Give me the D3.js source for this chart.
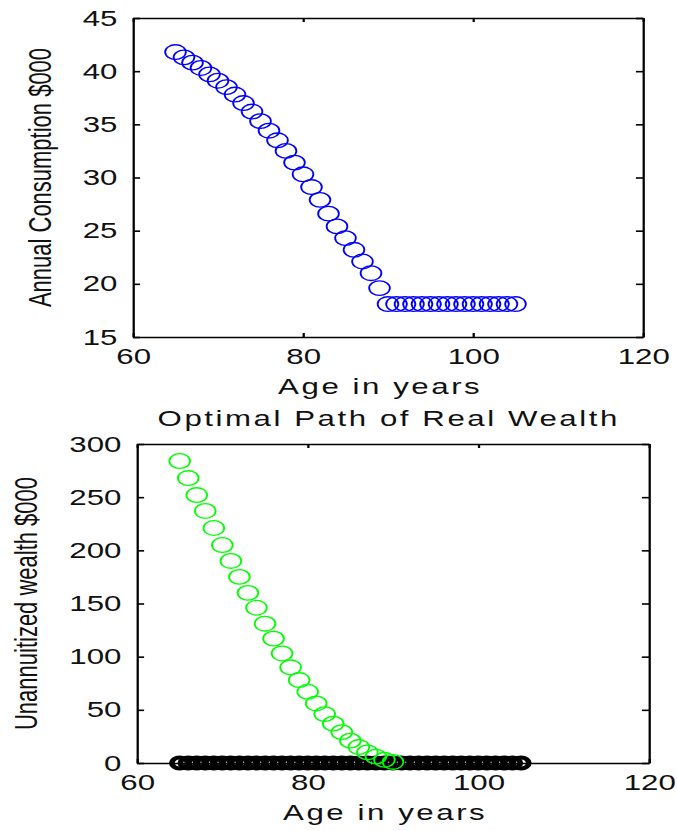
<!DOCTYPE html>
<html lang="en">
<head>
<meta charset="utf-8">
<title>Optimal Path of Consumption and Real Wealth</title>
<style>
  body { margin: 0; background: #fff; }
  svg text { font-family: Arial, "Liberation Sans", Helvetica, sans-serif; fill: #111; }
  .axis path, .axis line { stroke: #000; stroke-width: 1.6px; }
  .axis text { font-size: 22px; }
  .label { font-size: 22px; letter-spacing: 1.8px; }
  .ylabel { font-size: 22px; }
</style>
</head>
<body>
<div id="chart"></div>
<script src="https://d3js.org/d3.v7.min.js"></script>
<script>

// ages (years) for the consumption path and the zero line
var ages = [65, 66, 67, 68, 69, 70, 71, 72, 73, 74, 75, 76, 77, 78, 79, 80, 81, 82, 83, 84, 85,
            86, 87, 88, 89, 90, 91, 92, 93, 94, 95, 96, 97, 98, 99, 100, 101, 102, 103, 104, 105];

// annual consumption, $000
var consumption = [41.8, 41.3, 40.8, 40.3, 39.7, 39.1, 38.5, 37.8, 37.0, 36.2, 35.3,
                   34.4, 33.5, 32.5, 31.4, 30.3, 29.1, 27.9, 26.6, 25.4, 24.3,
                   23.2, 22.1, 21.0, 19.6, 18.1, 18.1, 18.1, 18.1, 18.1, 18.1,
                   18.1, 18.1, 18.1, 18.1, 18.1, 18.1, 18.1, 18.1, 18.1, 18.1];

// unannuitized wealth, $000
var wealthAges = [65, 66, 67, 68, 69, 70, 71, 72, 73, 74, 75, 76, 77,
                  78, 79, 80, 81, 82, 83, 84, 85, 86, 87, 88, 89, 90];
var wealth = [284, 268, 252, 237, 221, 205, 190, 175, 160, 146, 131, 117, 103,
              90, 78, 67, 56, 46, 37, 29, 21, 15, 10, 6, 3, 1];

// black series sitting on zero
var zeroWealth = [0, 0, 0, 0, 0, 0, 0, 0, 0, 0, 0, 0, 0, 0, 0, 0, 0, 0, 0, 0, 0,
                  0, 0, 0, 0, 0, 0, 0, 0, 0, 0, 0, 0, 0, 0, 0, 0, 0, 0, 0, 0];

var xTicks = [60, 80, 100, 120];
var consTicks = [15, 20, 25, 30, 35, 40, 45];
var wealthTicks = [0, 50, 100, 150, 200, 250, 300];

var width = 677, height = 831;
// the picture is stretched sideways, so draw in a narrower space and stretch it
var stretch = 1.42;
var vw = width / stretch;

var svg = d3.select("#chart").append("svg")
    .attr("width", width)
    .attr("height", height)
    .attr("viewBox", "0 0 " + vw + " " + height)
    .attr("preserveAspectRatio", "none");

function panel(p) {
    var x = d3.scaleLinear().domain([60, 120]).range([p.left / stretch, p.right / stretch]);
    var y = d3.scaleLinear().domain(p.yDomain).range([p.bottom, p.top]);

    var g = svg.append("g");

    g.append("g").attr("class", "axis")
        .attr("transform", "translate(0," + p.bottom + ")")
        .call(d3.axisBottom(x).tickValues(xTicks).tickSizeInner(-4).tickSizeOuter(0).tickPadding(11));
    g.append("g").attr("class", "axis")
        .attr("transform", "translate(0," + p.top + ")")
        .call(d3.axisTop(x).tickValues(xTicks).tickSizeInner(-4).tickSizeOuter(0).tickFormat(""));
    g.append("g").attr("class", "axis")
        .attr("transform", "translate(" + x(60) + ",0)")
        .call(d3.axisLeft(y).tickValues(p.yTicks).tickSizeInner(-5).tickSizeOuter(0).tickPadding(11));
    g.append("g").attr("class", "axis")
        .attr("transform", "translate(" + x(120) + ",0)")
        .call(d3.axisRight(y).tickValues(p.yTicks).tickSizeInner(-5).tickSizeOuter(0).tickFormat(""));

    g.selectAll(".axis .tick text").attr("fill", "#111");

    p.series.forEach(function(s) {
        g.append("g").selectAll("circle")
            .data(s.xs)
            .enter()
            .append("circle")
            .attr("cx", function(d) { return x(d); })
            .attr("cy", function(d, i) { return y(s.ys[i]); })
            .attr("r", s.r)
            .attr("fill", "none")
            .attr("stroke", s.color)
            .attr("stroke-width", s.sw);
    });

    var cx = (p.left + p.right) / 2 / stretch - 5.5;

    g.append("text").attr("class", "label")
        .attr("x", cx)
        .attr("y", p.bottom + 57)
        .attr("text-anchor", "middle")
        .text("Age in years");

    g.append("text").attr("class", "ylabel")
        .attr("transform", "translate(" + p.ylabelX + "," + (p.top + p.bottom) / 2 + ") rotate(-90)")
        .attr("text-anchor", "middle")
        .text(p.ylabel);

    if (p.title) {
        g.append("text").attr("class", "label")
            .attr("x", cx + 2.5)
            .attr("y", p.top - 18)
            .attr("text-anchor", "middle")
            .text(p.title);
    }
}

panel({
    left: 133, right: 643, top: 18, bottom: 337,
    yDomain: [15, 45], yTicks: consTicks,
    ylabel: "Annual Consumption $000", ylabelX: 36,
    series: [{ xs: ages, ys: consumption, color: "#0000ff", r: 7.3, sw: 1.3 }]
});

panel({
    left: 137, right: 649, top: 444, bottom: 763,
    yDomain: [0, 300], yTicks: wealthTicks,
    ylabel: "Unannuitized wealth $000", ylabelX: 26,
    title: "Optimal Path of Real Wealth",
    series: [
        { xs: ages, ys: zeroWealth, color: "#000000", r: 5.5, sw: 4 },
        { xs: wealthAges, ys: wealth, color: "#00ff00", r: 7.3, sw: 1.3 }
    ]
});

</script>
</body>
</html>
